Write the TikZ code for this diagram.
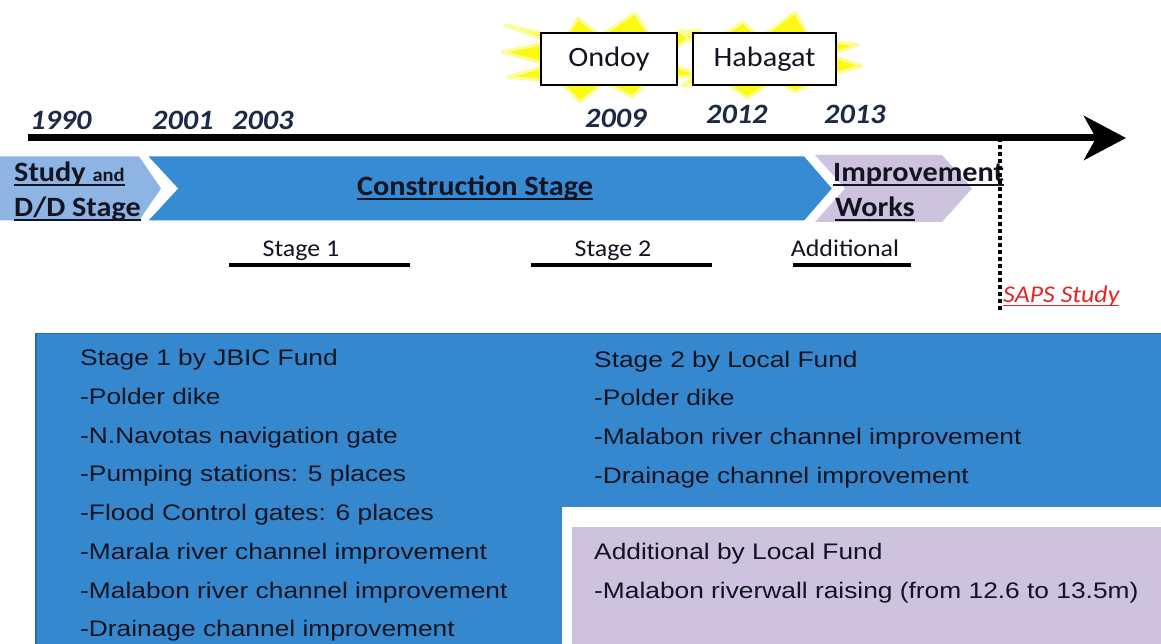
\documentclass[tikz,border=0pt]{standalone}
\usepackage{fontspec}
\setmainfont{Carlito}
\newfontfamily\calfont{Carlito}[FakeStretch=1.08]
\newfontfamily\boxfont{Liberation Sans}[FakeStretch=1.17]
\usetikzlibrary{arrows.meta}

% underline with chosen depth (#1) and thickness (#2)
\newcommand{\thickul}[3]{\setbox0=\hbox{#3}\rlap{\rule[-#1]{\wd0}{#2}}\box0}

\definecolor{stageblue}{RGB}{54,139,210}
\definecolor{boxblue}{RGB}{53,136,205}
\definecolor{edgeblue}{RGB}{30,110,185}
\definecolor{studyblue}{RGB}{141,180,227}
\definecolor{lav}{RGB}{205,195,222}
\definecolor{navy}{RGB}{28,42,72}
\definecolor{ink}{RGB}{18,20,34}
\definecolor{sapsred}{RGB}{228,38,38}
\definecolor{burstyellow}{RGB}{250,250,20}

\tikzset{
  year/.style={anchor=base west, text=navy, font=\calfont\fontsize{28}{30}\selectfont\bfseries\itshape},
  headline/.style={anchor=base west, text=ink, font=\calfont\fontsize{28}{30}\selectfont\bfseries},
  stagelabel/.style={anchor=base, text=ink, font=\calfont\fontsize{24}{26}\selectfont},
  stagebar/.style={line width=4.5pt},
  eventbox/.style={draw=black, line width=2.5pt, fill=white, minimum height=52pt,
    text=ink, font=\calfont\fontsize{28}{30}\selectfont},
  burst/.style={fill=burstyellow, draw=burstyellow!45, line width=3pt, line join=round},
  itemline/.style={anchor=base west, text=ink, font=\boxfont\fontsize{22.5}{24}\selectfont},
}

\begin{document}
\begin{tikzpicture}[x=1pt, y=-1pt, every node/.style={inner sep=0pt}]
\useasboundingbox (0,0) rectangle (1161,644);
\fill[white] (0,0) rectangle (1161,644);

% flood event starbursts
\filldraw[burst] (502,52) -- (550,42) -- (505,25) -- (565,38) -- (578,18) -- (600,36)
  -- (635,13) -- (650,36) -- (700,30) -- (660,60) -- (700,75) -- (650,80)
  -- (632,97) -- (605,82) -- (580,102) -- (560,82) -- (507,77) -- (550,65) -- cycle;
\filldraw[burst] (680,30) -- (712,42) -- (743,22) -- (760,38) -- (795,12) -- (810,38)
  -- (858,45) -- (830,55) -- (862,66) -- (830,75) -- (795,92) -- (775,80)
  -- (747,98) -- (722,80) -- (682,86) -- (712,62) -- cycle;

\node[eventbox, minimum width=136pt] (ondoy) at (609,59) {Ondoy};
\node[eventbox, minimum width=143pt] (habagat) at (764.5,59) {Habagat};

% time axis
\coordinate (axisstart) at (28,138);
\coordinate (axisend) at (1126,138);
\draw[line width=7pt, -{Stealth[length=42pt, width=44pt, inset=12pt]}] (axisstart) -- (axisend);

\node[year] (y1990) at (30,130) {1990};
\node[year] (y2001) at (152,130) {2001};
\node[year] (y2003) at (232,130) {2003};
\node[year] (y2009) at (585,128) {2009};
\node[year] (y2012) at (706,124) {2012};
\node[year] (y2013) at (824,124) {2013};

% stage chevrons
\fill[lav] (815,155) -- (942,155) -- (972,188.5) -- (942,222) -- (815,222) -- (845,188.5) -- cycle;
\filldraw[fill=studyblue, draw=white, line width=3pt, line join=miter]
  (-3,155) -- (140,155) -- (163,188.5) -- (140,222) -- (-3,222) -- cycle;
\filldraw[fill=stageblue, draw=white, line width=3pt]
  (145,155) -- (805,155) -- (834,188.5) -- (805,222) -- (145,222) -- (176,188.5) -- cycle;

\node[headline] (study) at (14,182) {\thickul{4pt}{1.8pt}{Study {\fontsize{19}{20}\selectfont and}}};
\node[headline] (dd) at (14,217) {\thickul{4pt}{1.8pt}{D/D Stage}};
\node[headline, anchor=base] (construction) at (475,196) {\thickul{4pt}{1.8pt}{Construction Stage}};
\node[headline] (improvement) at (833,182) {\thickul{4pt}{1.8pt}{Improvement}};
\node[headline] (works) at (835,217) {\thickul{4pt}{1.8pt}{Works}};

% stage labels with bars
\node[stagelabel] (st1) at (301,257) {Stage 1};
\node[stagelabel] (st2) at (613,257) {Stage 2};
\node[stagelabel] (stadd) at (845,257) {Additional};
\coordinate (b1a) at (229,265); \coordinate (b1b) at (410,265);
\coordinate (b2a) at (531,265); \coordinate (b2b) at (712,265);
\coordinate (b3a) at (793,265); \coordinate (b3b) at (911,265);
\draw[stagebar] (b1a) -- (b1b);
\draw[stagebar] (b2a) -- (b2b);
\draw[stagebar] (b3a) -- (b3b);

% SAPS study marker
\coordinate (sapstop) at (1000,138);
\coordinate (sapsbot) at (1000,311);
\draw[line width=4.5pt, dash pattern=on 4pt off 3pt] (sapstop) -- (sapsbot);
\node[anchor=base west, text=sapsred, font=\calfont\fontsize{24}{26}\selectfont\itshape] (saps) at (1003,302)
  {\thickul{3.5pt}{1pt}{SAPS Study}};

% works panels
\filldraw[fill=boxblue, draw=edgeblue, line width=1.5pt] (36,333.5) rectangle (1165,650);
\fill[white] (562,507) rectangle (1165,650);
\fill[lav] (572,527) rectangle (1165,650);

\node[itemline] (l1) at (80,365.5) {Stage 1 by JBIC Fund};
\node[itemline] (l2) at (80,404) {-Polder dike};
\node[itemline] (l3) at (80,443) {-N.Navotas navigation gate};
\node[itemline] (l4) at (80,481.5) {-Pumping stations: 5 places};
\node[itemline] (l5) at (80,520.5) {-Flood Control gates: 6 places};
\node[itemline] (l6) at (80,559) {-Marala river channel improvement};
\node[itemline] (l7) at (80,598) {-Malabon river channel improvement};
\node[itemline] (l8) at (80,636.5) {-Drainage channel improvement};

\node[itemline] (r1) at (594,367.5) {Stage 2 by Local Fund};
\node[itemline] (r2) at (594,405.5) {-Polder dike};
\node[itemline] (r3) at (594,444.5) {-Malabon river channel improvement};
\node[itemline] (r4) at (594,483.5) {-Drainage channel improvement};

\node[itemline] (a1) at (594,559.5) {Additional by Local Fund};
\node[itemline] (a2) at (594,598) {-Malabon riverwall raising (from 12.6 to 13.5m)};
\end{tikzpicture}
\end{document}
